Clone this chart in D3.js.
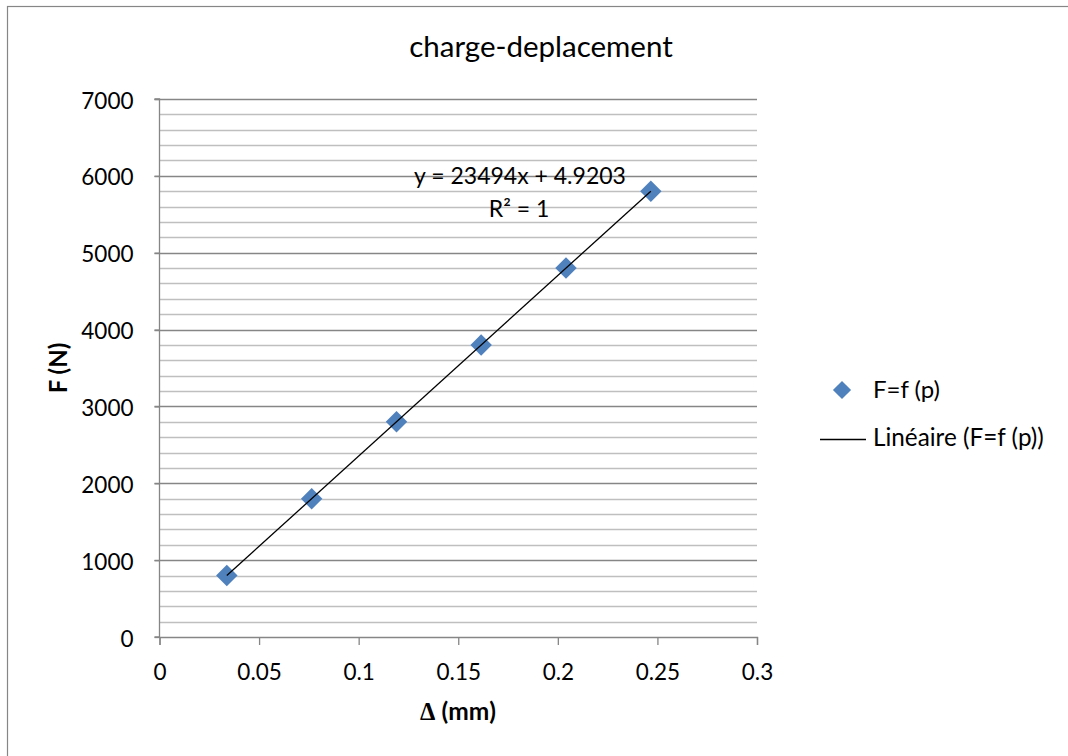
<!DOCTYPE html>
<html><head><meta charset="utf-8">
<script src="https://cdn.jsdelivr.net/npm/d3@7"></script>
<style>body{margin:0;background:#fff}svg{display:block}text{font-family:Lato,"Open Sans",sans-serif}</style>
</head><body>
<script>
const title = "charge-deplacement";
const seriesName = "F=f (p)";
const trendName = "Linéaire (F=f (p))";
const deltaMm = [0.0338, 0.0764, 0.119, 0.1615, 0.2041, 0.2467];
const forceN = [800, 1800, 2800, 3800, 4800, 5800];
const xTicks = [0, 0.05, 0.1, 0.15, 0.2, 0.25, 0.3];
const yTicks = [0, 1000, 2000, 3000, 4000, 5000, 6000, 7000];
const yMinor = d3.range(0, 7001, 200);
const slope = 23494, intercept = 4.9203;

const W = 1068, H = 756;
const svg = d3.select("body").append("svg").attr("width", W).attr("height", H);
svg.append("rect").attr("x", 7.5).attr("y", 6.5).attr("width", W + 10).attr("height", H + 10)
  .attr("fill", "#fff").attr("stroke", "#868686").attr("stroke-width", 1.2);

const x = d3.scaleLinear().domain([0, 0.3]).range([159.5, 757]);
const y = d3.scaleLinear().domain([0, 7000]).range([637, 99]);

// minor grid
svg.append("g").selectAll("line").data(yMinor.filter(v => v % 1000 !== 0)).join("line")
  .attr("x1", x(0)).attr("x2", x(0.3)).attr("y1", d => Math.round(y(d)) + 0.5).attr("y2", d => Math.round(y(d)) + 0.5)
  .attr("stroke", "#bfbfbf").attr("stroke-width", 1.3);
// major grid
svg.append("g").selectAll("line").data(yTicks.filter(v => v > 0)).join("line")
  .attr("x1", x(0) - 5).attr("x2", x(0.3)).attr("y1", d => Math.round(y(d)) + 0.5).attr("y2", d => Math.round(y(d)) + 0.5)
  .attr("stroke", "#868686").attr("stroke-width", 1.3);

// axes
const yAxis = d3.axisLeft(y).tickValues(yTicks).tickSize(5).tickFormat(d3.format("d"));
const gy = svg.append("g").attr("transform", `translate(${x(0)},0)`).call(yAxis);
const xAxis = d3.axisBottom(x).tickValues(xTicks).tickSize(8).tickFormat(d => d === 0 ? "0" : String(d));
const gx = svg.append("g").attr("transform", `translate(0,${y(0)})`).call(xAxis);
[gx, gy].forEach(g => {
  g.select(".domain").attr("stroke", "#868686").attr("stroke-width", 1.3);
  g.selectAll(".tick line").attr("stroke", "#868686").attr("stroke-width", 1.3);
  g.selectAll("text").attr("font-size", 22.5).attr("fill", "#000").attr("font-family", "Lato, sans-serif");
});
gx.selectAll(".tick text").attr("y", 43).attr("dy", 0);
gy.selectAll(".tick text").attr("x", -26).attr("dy", 9);
gy.select(".domain").attr("d", `M-5,${y(7000)}H0V${y(0)}H-5`);

// points
const diamond = d3.symbol().type(d3.symbolSquare).size(230);
svg.append("g").selectAll("path").data(deltaMm.map((d, i) => [d, forceN[i]])).join("path")
  .attr("d", diamond).attr("transform", d => `translate(${x(d[0])},${y(d[1])}) rotate(45)`)
  .attr("fill", "#4f81bd");
// trendline (drawn over markers as in reference)
svg.append("line")
  .attr("x1", x(deltaMm[0])).attr("y1", y(slope * deltaMm[0] + intercept))
  .attr("x2", x(deltaMm[deltaMm.length - 1])).attr("y2", y(slope * deltaMm[deltaMm.length - 1] + intercept))
  .attr("stroke", "#000").attr("stroke-width", 1.3);

// equation
svg.append("text").attr("x", 520).attr("y", 184).attr("text-anchor", "middle").attr("font-size", 23)
  .text(`y = ${slope}x + ${intercept}`);
svg.append("text").attr("x", 519).attr("y", 217).attr("text-anchor", "middle").attr("font-size", 23)
  .text("R² = 1");

// title
svg.append("text").attr("x", 541).attr("y", 57).attr("text-anchor", "middle").attr("font-size", 29.5).text(title);

// axis titles
svg.append("text").attr("transform", "translate(67,368) rotate(-90)").attr("text-anchor", "middle")
  .attr("font-size", 24).attr("font-weight", "bold").text("F (N)");
const xt = svg.append("text").attr("x", 458).attr("y", 720).attr("text-anchor", "middle")
  .attr("font-size", 24.5).attr("font-weight", "bold");
xt.append("tspan").attr("font-family", "Liberation Serif, serif").text("Δ");
xt.append("tspan").text(" (mm)");

// legend
svg.append("path").attr("d", d3.symbol().type(d3.symbolSquare).size(165))
  .attr("transform", "translate(842,390) rotate(45)").attr("fill", "#4f81bd");
svg.append("text").attr("x", 873).attr("y", 398).attr("font-size", 24).text(seriesName);
svg.append("line").attr("x1", 820).attr("x2", 866).attr("y1", 439.5).attr("y2", 439.5).attr("stroke", "#000").attr("stroke-width", 1.3);
svg.append("text").attr("x", 873).attr("y", 446).attr("font-size", 24.3).text(trendName);
</script>
</body></html>
